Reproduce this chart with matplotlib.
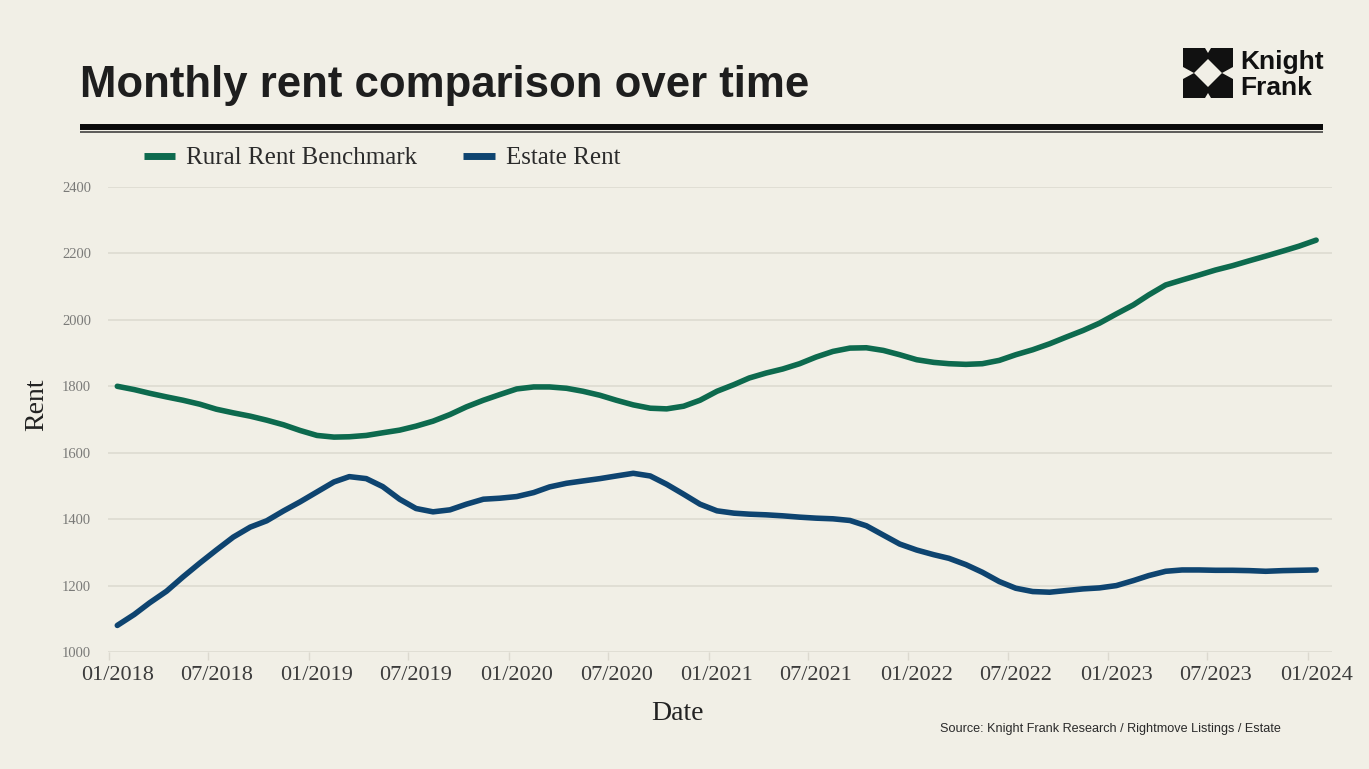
import numpy as np
import pandas as pd
import matplotlib
matplotlib.use("Agg")
import matplotlib.pyplot as plt
import matplotlib.dates as mdates
from matplotlib.patches import Polygon
from matplotlib.lines import Line2D

# monthly series, Jan 2018 .. Jan 2024
months = pd.date_range("2018-01-01", "2024-01-01", freq="MS")

rural_benchmark = [
    1800, 1790, 1779, 1768, 1758, 1746, 1731, 1720, 1710, 1698, 1684, 1667,
    1652, 1647, 1648, 1652, 1660, 1668, 1680, 1695, 1715, 1738, 1758, 1775,
    1792, 1798, 1798, 1794, 1785, 1773, 1758, 1744, 1734, 1732, 1740, 1758,
    1785, 1805, 1825, 1840, 1852, 1868, 1888, 1905, 1915, 1916, 1908, 1895,
    1880, 1872, 1868, 1866, 1868, 1878, 1895, 1910, 1928, 1948, 1968, 1990,
    2018, 2045, 2075, 2105, 2120, 2135, 2150, 2163, 2178, 2192, 2207, 2222,
    2240,
]
estate_rent = [
    1080, 1113, 1148, 1183, 1226, 1268, 1307, 1346, 1376, 1395, 1425, 1452,
    1482, 1512, 1528, 1522, 1498, 1460, 1432, 1422, 1428, 1445, 1460, 1463,
    1468, 1480, 1497, 1508, 1515, 1522, 1530, 1538, 1530, 1505, 1475, 1445,
    1425, 1418, 1415, 1413, 1410, 1406, 1403, 1401, 1396, 1380, 1352, 1325,
    1307, 1293, 1282, 1263, 1240, 1212, 1192, 1182, 1180, 1185, 1190, 1193,
    1200, 1215, 1230, 1243, 1247, 1247, 1246, 1246, 1245, 1243, 1245, 1246,
    1247,
]
series_names = ["Rural Rent Benchmark", "Estate Rent"]
y_ticks = [1000, 1200, 1400, 1600, 1800, 2000, 2200, 2400]

BG = "#f1efe6"
GREEN = "#0d6a4e"
BLUE = "#0e4470"
SERIF = ["Liberation Serif", "DejaVu Serif"]
W, H = 1369, 769

fig = plt.figure(figsize=(W / 100, H / 100), dpi=100, facecolor=BG)

def fx(px):
    return px / W

def fy(py):
    return 1 - py / H

# plot area
ax = fig.add_axes([fx(108), fy(652), fx(1332) - fx(108), fy(187) - fy(652)])
ax.set_facecolor(BG)
ax.plot(months, rural_benchmark, color=GREEN, lw=4, solid_capstyle="round")
ax.plot(months, estate_rent, color=BLUE, lw=4, solid_capstyle="round")

ax.set_ylim(1000, 2400)
ax.set_yticks(y_ticks)
ax.set_xlim(mdates.date2num(pd.Timestamp("2017-12-15")),
            mdates.date2num(pd.Timestamp("2024-01-30")))
ax.xaxis.set_major_locator(mdates.MonthLocator(bymonth=[1, 7]))
ax.xaxis.set_major_formatter(mdates.DateFormatter("%m/%Y"))
# tick marks sit between months
major = pd.date_range("2018-01-01", "2024-01-01", freq="6MS")
ax.set_xticks(mdates.date2num(major - pd.Timedelta(days=15)), minor=True)

ax.grid(axis="y", color="#dcd9cf", lw=1.1)
ax.set_axisbelow(True)
for s in ax.spines.values():
    s.set_visible(False)
ax.tick_params(axis="y", length=0, pad=12, labelsize=10.5, labelcolor="#7a7a78")
ax.tick_params(axis="x", which="major", length=0, pad=10, labelsize=16,
               labelcolor="#3c3c3c")
ax.tick_params(axis="x", which="minor", length=6, width=1, color="#dcd9cf")
for lab in ax.get_xticklabels() + ax.get_yticklabels():
    lab.set_family(SERIF)

fig.text(fx(37), fy(405), "Rent", family=SERIF, fontsize=20, color="#222222",
         rotation=90, ha="center", va="center")
fig.text(fx(677), fy(713), "Date", family=SERIF, fontsize=20,
         color="#222222", ha="center", va="center")

# legend row above the plot
handles = [Line2D([], [], color=GREEN, lw=5, solid_capstyle="butt"),
           Line2D([], [], color=BLUE, lw=5, solid_capstyle="butt")]
fig.legend(handles, series_names, loc="center left",
           bbox_to_anchor=(fx(121), fy(158)), ncol=2, frameon=False,
           prop={"family": SERIF, "size": 18},
           handlelength=1.25, handletextpad=0.45, columnspacing=1.85,
           labelcolor="#2b2b2b")

# title and header rule
fig.text(fx(80), fy(86), "Monthly rent comparison over time",
         family=["Liberation Sans"], weight="bold",
         fontsize=31.5, color="#1e1e1e", ha="left", va="center")
fig.add_artist(Line2D([fx(80), fx(1323)], [fy(127), fy(127)], color="#0a0a0a",
                      lw=4.3, solid_capstyle="butt", transform=fig.transFigure))
fig.add_artist(Line2D([fx(80), fx(1323)], [fy(132), fy(132)], color="#333333",
                      lw=1.1, solid_capstyle="butt", transform=fig.transFigure))

# Knight Frank mark
x0, y0, s = 1183, 98, 50
def mark(pts, color):
    xy = [(fx(x0 + u * s), fy(y0 - v * s)) for u, v in pts]
    fig.add_artist(Polygon(xy, closed=True, color=color, lw=0,
                           transform=fig.transFigure))

mark([(0, 0), (1, 0), (1, 1), (0, 1)], "#111111")
mark([(0.5, 0.78), (0.78, 0.5), (0.5, 0.22), (0.22, 0.5)], BG)
mark([(0, 0.62), (0.22, 0.5), (0, 0.38)], BG)
mark([(1, 0.62), (0.78, 0.5), (1, 0.38)], BG)
mark([(0.44, 1), (0.5, 0.9), (0.56, 1)], BG)
mark([(0.44, 0), (0.5, 0.1), (0.56, 0)], BG)
fig.text(fx(1240), fy(62), "Knight", family=["Liberation Sans"],
         weight="bold", fontsize=19, color="#111111", ha="left", va="center")
fig.text(fx(1240), fy(88), "Frank", family=["Liberation Sans"],
         weight="bold", fontsize=19, color="#111111", ha="left", va="center")

fig.text(fx(940), fy(729), "Source: Knight Frank Research / Rightmove Listings / Estate",
         family=["Liberation Sans"], fontsize=9.1, color="#2a2a2a",
         ha="left", va="center")

fig.savefig("out.png", dpi=100, facecolor=BG)
